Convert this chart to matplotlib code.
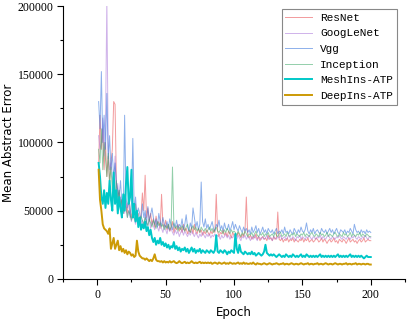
import numpy as np
import matplotlib
matplotlib.use("Agg")
from matplotlib import pyplot as plt
from matplotlib.ticker import MultipleLocator

# values in thousands, epochs 1..200
resnet = [85, 120, 95, 110, 80, 100, 75, 90, 70, 85,
          95, 130, 128, 70, 60, 65, 55, 58, 50, 62,
          55, 48, 60, 52, 45, 50, 47, 55, 45, 48,
          42, 47, 63, 50, 76, 45, 52, 42, 48, 40,
          44, 38, 46, 40, 42, 37, 62, 40, 38, 43,
          36, 40, 35, 38, 42, 34, 38, 36, 40, 35,
          38, 34, 40, 35, 37, 33, 36, 34, 38, 33,
          40, 35, 33, 37, 34, 36, 32, 35, 33, 36,
          34, 32, 35, 33, 36, 34, 62, 35, 31, 34,
          33, 36, 32, 34, 31, 35, 33, 30, 34, 32,
          33, 31, 34, 32, 30, 33, 31, 35, 60, 32,
          30, 32, 29, 31, 30, 33, 29, 31, 28, 30,
          31, 29, 30, 28, 32, 29, 30, 28, 31, 29,
          30, 49, 29, 28, 30, 27, 29, 28, 30, 27,
          29, 28, 30, 27, 29, 28, 27, 29, 28, 30,
          27, 29, 28, 30, 27, 28, 29, 27, 28, 30,
          29, 27, 28, 30, 27, 29, 28, 26, 28, 29,
          27, 28, 30, 27, 28, 26, 29, 28, 27, 29,
          28, 26, 28, 30, 27, 28, 29, 27, 28, 26,
          28, 29, 27, 28, 30, 27, 28, 29, 28, 28]

googlenet = [105, 95, 100, 118, 90, 110, 205, 95, 80, 85,
             75, 68, 90, 62, 70, 55, 60, 52, 58, 48,
             55, 45, 50, 47, 42, 48, 44, 40, 46, 42,
             45, 40, 43, 38, 47, 41, 39, 44, 37, 42,
             39, 36, 41, 38, 35, 40, 37, 34, 39, 36,
             33, 38, 35, 37, 34, 32, 36, 33, 35, 31,
             34, 36, 32, 35, 33, 31, 34, 32, 35, 33,
             31, 34, 32, 30, 33, 31, 34, 32, 30, 33,
             31, 33, 30, 32, 31, 33, 30, 32, 31, 29,
             32, 30, 31, 33, 30, 32, 29, 31, 30, 32,
             31, 29, 32, 30, 28, 31, 30, 32, 29, 31,
             30, 28, 31, 29, 32, 30, 28, 31, 30, 29,
             31, 29, 30, 32, 29, 31, 30, 28, 31, 30,
             29, 31, 30, 32, 29, 30, 31, 29, 30, 32,
             30, 29, 31, 30, 28, 31, 30, 32, 29, 31,
             30, 29, 31, 30, 32, 30, 29, 31, 30, 29,
             31, 30, 32, 29, 31, 30, 29, 31, 32, 30,
             29, 31, 30, 29, 31, 30, 32, 30, 29, 31,
             30, 29, 31, 30, 29, 31, 30, 32, 30, 29,
             31, 30, 29, 31, 30, 32, 30, 29, 31, 30]

vgg = [130, 110, 152, 100, 120, 95, 136, 88, 105, 80,
       92, 75, 85, 70, 65, 60, 72, 55, 48, 120,
       60, 52, 58, 45, 55, 103, 50, 60, 45, 52,
       48, 42, 55, 45, 50, 40, 53, 43, 47, 52,
       45, 40, 44, 38, 48, 42, 39, 45, 40, 38,
       42, 37, 44, 39, 36, 41, 38, 43, 37, 40,
       38, 44, 36, 40, 47, 38, 35, 41, 37, 52,
       45, 38, 42, 36, 40, 71, 42, 38, 44, 37,
       40, 36, 39, 42, 37, 35, 40, 38, 43, 36,
       39, 35, 41, 37, 36, 40, 35, 38, 42, 36,
       40, 37, 35, 39, 36, 34, 38, 35, 37, 34,
       36, 33, 38, 34, 36, 39, 34, 37, 33, 35,
       38, 34, 36, 33, 37, 35, 34, 36, 33, 35,
       37, 33, 35, 34, 36, 33, 38, 34, 35, 33,
       36, 34, 33, 37, 35, 33, 36, 34, 38, 35,
       34, 36, 41, 35, 33, 36, 34, 37, 33, 35,
       36, 34, 33, 37, 35, 34, 36, 33, 35, 37,
       34, 36, 33, 35, 37, 34, 33, 36, 35, 34,
       36, 33, 35, 34, 37, 35, 33, 40, 36, 34,
       35, 33, 36, 34, 35, 33, 36, 34, 35, 34]

inception = [95, 85, 110, 80, 100, 88, 75, 92, 70, 82,
             65, 78, 60, 72, 55, 65, 50, 58, 48, 55,
             52, 45, 50, 47, 43, 48, 45, 42, 47, 44,
             41, 46, 43, 40, 45, 42, 39, 44, 41, 38,
             43, 40, 37, 42, 39, 41, 38, 40, 36, 39,
             37, 40, 36, 38, 82, 40, 37, 39, 35, 38,
             36, 39, 37, 35, 38, 40, 36, 34, 37, 39,
             36, 38, 35, 37, 34, 38, 36, 35, 37, 34,
             36, 38, 35, 37, 34, 36, 38, 35, 34, 36,
             35, 33, 36, 34, 37, 35, 33, 36, 34, 35,
             34, 32, 35, 33, 31, 34, 32, 35, 33, 31,
             33, 32, 34, 31, 33, 35, 32, 31, 33, 32,
             34, 31, 33, 32, 34, 31, 32, 33, 31, 34,
             32, 31, 33, 34, 31, 32, 33, 31, 34, 32,
             31, 33, 32, 34, 31, 33, 32, 31, 33, 32,
             34, 31, 33, 32, 31, 33, 34, 32, 31, 33,
             32, 31, 34, 32, 33, 31, 32, 34, 31, 33,
             32, 31, 33, 34, 32, 31, 33, 32, 31, 34,
             32, 33, 31, 32, 34, 31, 33, 32, 31, 33,
             32, 34, 31, 33, 32, 31, 33, 32, 31, 31]

meshins = [85, 75, 60, 55, 65, 52, 63, 55, 72, 58,
           50, 78, 55, 65, 48, 60, 52, 45, 62, 50,
           70, 82, 55, 60, 80, 45, 55, 42, 50, 38,
           45, 36, 40, 37, 42, 35, 38, 32, 36, 30,
           27, 30, 25, 28, 26, 30, 25, 27, 24, 26,
           23, 25, 22, 24, 23, 27, 22, 24, 21, 23,
           20, 22, 21, 23, 20, 22, 19, 21, 23, 20,
           22, 19, 21, 20, 22, 19, 21, 20, 19, 21,
           20, 19, 21, 20, 19, 21, 32, 20, 19, 21,
           20, 19, 21, 20, 18, 20, 19, 21, 20, 19,
           33, 22, 19, 25, 20, 19, 18, 20, 19, 18,
           19, 18, 20, 18, 19, 17, 18, 19, 18, 17,
           18, 20, 25, 19, 18, 17, 18, 17, 18, 17,
           16, 17, 18, 17, 16, 17, 16, 18, 17, 16,
           17, 16, 18, 17, 16, 17, 16, 17, 18, 16,
           17, 16, 18, 17, 16, 17, 16, 17, 16, 17,
           16, 17, 18, 16, 17, 16, 17, 16, 17, 16,
           17, 16, 17, 16, 17, 18, 16, 17, 16, 17,
           16, 17, 16, 17, 18, 16, 17, 16, 17, 16,
           17, 16, 17, 16, 15, 16, 17, 16, 16, 16]

deepins = [80, 58, 50, 40, 37, 36, 35, 33, 37, 22,
           26, 30, 22, 25, 28, 21, 24, 20, 22, 19,
           21, 18, 20, 19, 17, 18, 16, 17, 28, 20,
           17, 16, 15, 15, 14, 15, 14, 13, 14, 13,
           15, 18, 14, 13, 13, 12.5, 13, 12, 13, 12,
           12.5, 12, 13, 12, 12.5, 13, 12, 11.5, 12, 13,
           12, 11.5, 12, 12.5, 11.5, 12, 11.5, 12, 13, 12,
           11.5, 12, 11.5, 12, 12.5, 11.5, 12, 11.5, 12, 11.5,
           12, 11.5, 12, 11, 11.5, 12, 11.5, 11, 12, 11.5,
           11, 11.5, 12, 11, 11.5, 11, 12, 11.5, 11, 11.5,
           11, 11.5, 12, 11, 11.5, 11, 12, 11, 11.5, 11,
           11, 11.5, 11, 12, 11, 10.5, 11.5, 11, 11, 10.5,
           11, 11.5, 11, 10.5, 11, 11.5, 11, 10.5, 11, 11,
           11.5, 11, 10.5, 11, 11, 11.5, 10.5, 11, 11, 10.5,
           11, 11.5, 11, 10.5, 11, 11, 10.5, 11, 11.5, 11,
           10.5, 11, 11, 11.5, 10.5, 11, 11, 10.5, 11, 11,
           11.5, 10.5, 11, 11, 10.5, 11, 11.5, 11, 10.5, 11,
           11, 10.5, 11, 11.5, 11, 10.5, 11, 11, 10.5, 11,
           11, 11.5, 10.5, 11, 11, 10.5, 11, 11, 11.5, 10.5,
           11, 11, 10.5, 11, 11, 10.5, 11, 11, 10.5, 10.5]

labels = ["ResNet", "GoogLeNet", "Vgg", "Inception", "MeshIns-ATP", "DeepIns-ATP"]
series = [resnet, googlenet, vgg, inception, meshins, deepins]
colors = ["#e8474c", "#a873d8", "#2f6fdb", "#3aa865", "#00c8c8", "#cc9a06"]
widths = [0.7, 0.7, 0.7, 0.7, 1.4, 1.4]
alphas = [0.55, 0.55, 0.55, 0.55, 1.0, 1.0]

epochs = np.arange(1, len(resnet) + 1)

fig = plt.figure(figsize=(4.07, 3.22), dpi=100)
ax = fig.add_axes([0.155, 0.134, 0.84, 0.847])

for vals, lab, c, lw, a in zip(series, labels, colors, widths, alphas):
    ax.plot(epochs, np.array(vals) * 1000, color=c, lw=lw, alpha=a, label=lab)

ax.set_xlim(-25, 225)
ax.set_ylim(0, 200000)
ax.xaxis.set_major_locator(MultipleLocator(50))
ax.xaxis.set_minor_locator(MultipleLocator(25))
ax.yaxis.set_major_locator(MultipleLocator(50000))
ax.yaxis.set_minor_locator(MultipleLocator(25000))
ax.spines["top"].set_visible(False)
ax.spines["right"].set_visible(False)
ax.tick_params(which="major", direction="out", length=4, width=0.8, pad=3)
ax.tick_params(which="minor", direction="out", length=2.5, width=0.8)
for t in ax.get_xticklabels() + ax.get_yticklabels():
    t.set_fontfamily("Liberation Serif")
    t.set_fontsize(8.5)

ax.set_xlabel("Epoch", fontsize=8.5, family="DejaVu Sans", labelpad=4)
ax.set_ylabel("Mean Abstract Error", fontsize=8.5, family="DejaVu Sans", labelpad=2)

leg = ax.legend(loc="upper right", bbox_to_anchor=(0.992, 1.01), fancybox=False,
                edgecolor="#888888", framealpha=1,
                prop={"family": "Liberation Mono", "size": 8},
                handlelength=2.4, borderpad=0.35, labelspacing=0.5, handletextpad=0.7)
leg.get_frame().set_linewidth(0.8)

fig.savefig("out.png", dpi=100)
